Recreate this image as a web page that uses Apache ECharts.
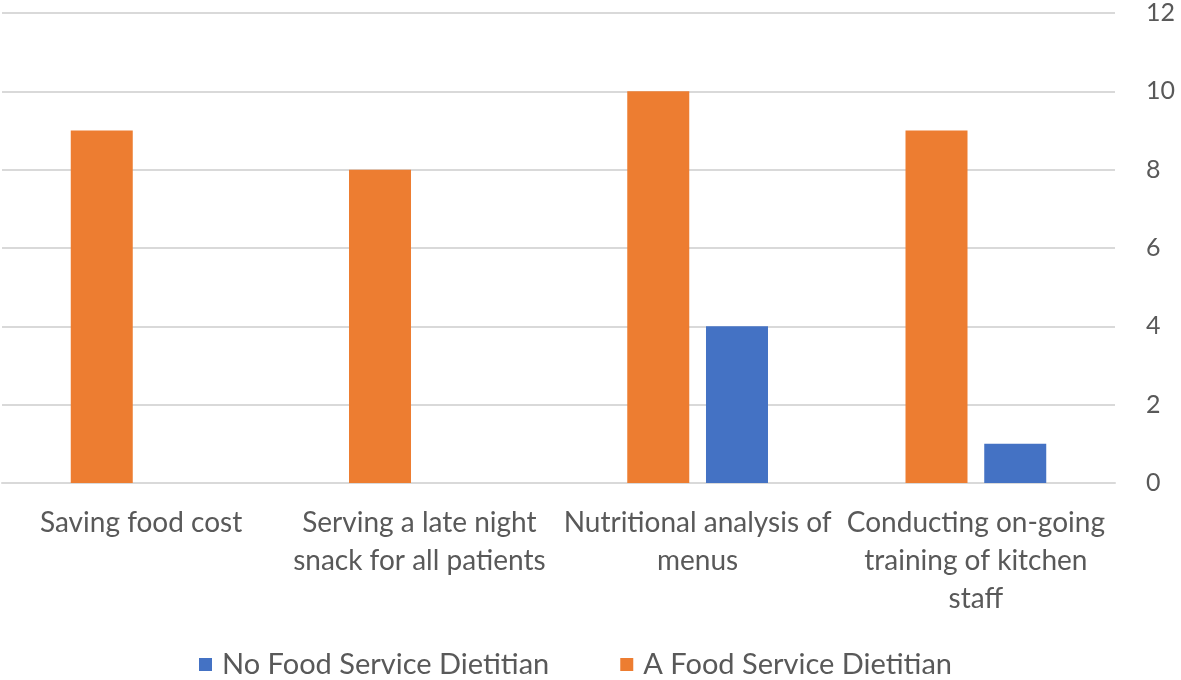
<!DOCTYPE html>
<html>
<head>
<meta charset="utf-8">
<script src="https://cdn.jsdelivr.net/npm/echarts@6/dist/echarts.min.js"></script>
<style>html,body{margin:0;padding:0;background:#fff}#c{width:1181px;height:680px}</style>
</head>
<body>
<div id="c"></div>
<script>
const categories = ["Saving food cost", "Serving a late night snack for all patients", "Nutritional analysis of menus", "Conducting on-going training of kitchen staff"];
const tickLabels = ["Saving food cost", "Serving a late night\nsnack for all patients", "Nutritional analysis of\nmenus", "Conducting on-going\ntraining of kitchen\nstaff"];
const seriesNames = ["No Food Service Dietitian", "A Food Service Dietitian"];
const noDietitian = [0, 0, 4, 1];
const withDietitian = [9, 8, 10, 9];
const yTicks = [0, 2, 4, 6, 8, 10, 12];

const chart = echarts.init(document.getElementById('c'));
const font = 'Lato, "Open Sans", sans-serif';
chart.setOption({
  animation: false,
  textStyle: { fontFamily: font },
  grid: { left: 2, right: 66, top: 13, bottom: 197, containLabel: false },
  legend: {
    top: 650, left: 199, padding: 0,
    data: seriesNames,
    icon: 'rect', itemWidth: 13, itemHeight: 13, itemGap: 71,
    textStyle: { fontSize: 29, color: '#595959', fontFamily: font, padding: [0, 0, 0, 5] }
  },
  xAxis: {
    type: 'category',
    data: categories,
    axisLine: { lineStyle: { color: '#d9d9d9', width: 2 } },
    axisTick: { show: false },
    axisLabel: {
      interval: 0, fontSize: 28, color: '#595959', margin: 21, lineHeight: 38,
      formatter: (v, i) => tickLabels[i]
    }
  },
  yAxis: {
    type: 'value', position: 'right',
    min: yTicks[0], max: yTicks[yTicks.length - 1], interval: 2,
    axisLine: { show: false }, axisTick: { show: false },
    splitLine: { lineStyle: { color: '#d9d9d9', width: 2 } },
    axisLabel: { fontSize: 25, color: '#595959', margin: 31 }
  },
  series: [
    { name: seriesNames[1], type: 'bar', data: withDietitian, barWidth: 62, barGap: '27%', itemStyle: { color: '#ED7D31' } },
    { name: seriesNames[0], type: 'bar', data: noDietitian, barWidth: 62, barGap: '27%', itemStyle: { color: '#4472C4' } }
  ]
});
</script>
</body>
</html>
